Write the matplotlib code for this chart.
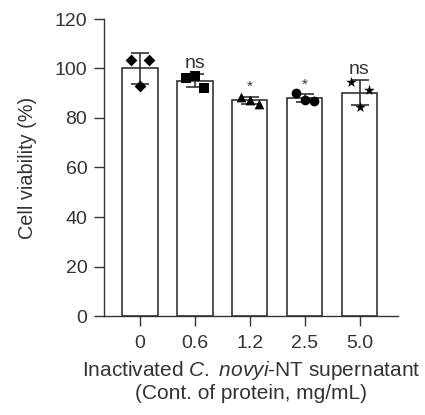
import matplotlib
matplotlib.use("Agg")
import matplotlib.pyplot as plt
import numpy as np

plt.rcParams['font.family'] = ['Liberation Sans', 'DejaVu Sans']
plt.rcParams['mathtext.fontset'] = 'custom'
plt.rcParams['mathtext.rm'] = 'Liberation Sans'
plt.rcParams['mathtext.it'] = 'Liberation Sans:italic'

categories = ["0", "0.6", "1.2", "2.5", "5.0"]
replicates = [
    [103.5, 93.0, 103.5],
    [96.0, 97.0, 92.0],
    [88.6, 87.3, 85.6],
    [90.0, 87.1, 86.9],
    [94.7, 84.6, 91.3],
]
markers = ["D", "s", "^", "o", "*"]
marker_sizes = [6, 7, 7, 7, 8]
sig_labels = ["", "ns", "*", "*", "ns"]

means = [np.mean(r) for r in replicates]
sds = [np.std(r, ddof=1) for r in replicates]

fig = plt.figure(figsize=(4.25, 4.15), dpi=100)
ax = fig.add_axes([104/425, 99/415, (398-104)/425, (396-99)/415])

x = np.arange(len(categories))
col = "#333333"
ax.bar(x, means, width=0.65, color="white", edgecolor=col, linewidth=1.2, zorder=1)
ax.errorbar(x, means, yerr=sds, fmt="none", ecolor=col, elinewidth=1.2,
            capsize=6.5, capthick=1.2, zorder=2)
offsets = [-0.16, 0.0, 0.17]
for i, reps in enumerate(replicates):
    ax.scatter(x[i] + np.array(offsets), reps, marker=markers[i],
               s=marker_sizes[i]**2, color="black", zorder=3, linewidths=0)
for i, lab in enumerate(sig_labels):
    if lab == "ns":
        ax.text(x[i], means[i] + sds[i] + 1.0, lab, ha="center", va="bottom",
                fontsize=14, color=col)
    elif lab == "*":
        ax.text(x[i], means[i] + sds[i] + 1.0, lab, ha="center", va="bottom",
                fontsize=11, color=col)

ax.set_xlim(-0.65, 4.7)
ax.set_ylim(0, 120)
ax.set_yticks([0, 20, 40, 60, 80, 100, 120])
ax.set_xticks(x)
ax.set_xticklabels(categories)
for s in ["top", "right"]:
    ax.spines[s].set_visible(False)
for s in ["left", "bottom"]:
    ax.spines[s].set_color(col)
    ax.spines[s].set_linewidth(1.0)
ax.tick_params(axis="both", colors=col, labelsize=14, length=7, width=1.0)
ax.tick_params(axis="y", pad=5)
ax.tick_params(axis="x", pad=7)
ax.set_ylabel("Cell viability (%)", fontsize=14.3, color=col, labelpad=13)
ax.set_xlabel("Inactivated $\\mathit{C.}$ $\\mathit{novyi}$-NT supernatant\n(Cont. of protein, mg/mL)",
              fontsize=15, color=col, labelpad=5, linespacing=1.1)

fig.savefig("out.png", dpi=100)
